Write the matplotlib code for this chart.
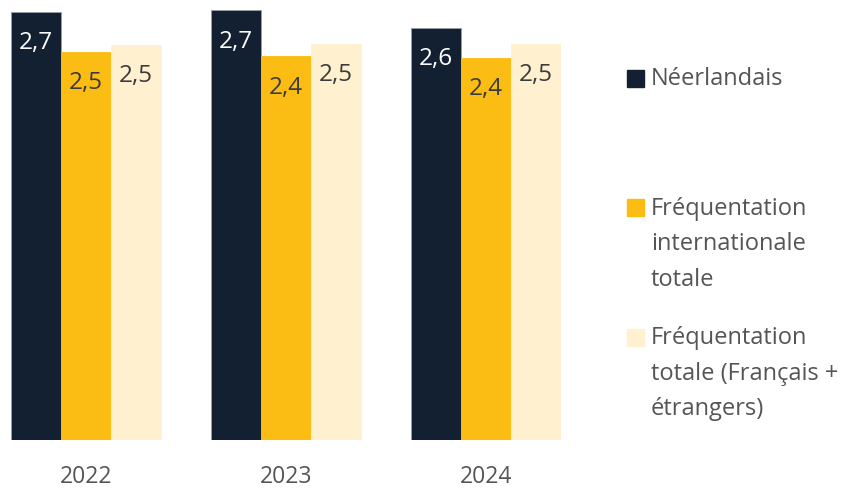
import numpy as np
import matplotlib.pyplot as plt
import matplotlib.patches as mpatches

years = ['2022', '2023', '2024']
series = ['Néerlandais',
          'Fréquentation\ninternationale\ntotale',
          'Fréquentation\ntotale (Français +\nétrangers)']
neerlandais = [2.71, 2.72, 2.61]
internationale = [2.46, 2.43, 2.42]
totale = [2.50, 2.51, 2.51]

colors = ['#122031', '#fbbc14', '#fff1d0']
label_colors = ['white', '#3b3b3b', '#3b3b3b']

plt.rcParams['font.family'] = ['Open Sans', 'DejaVu Sans']

W, H = 866, 488
fig = plt.figure(figsize=(W / 100, H / 100), dpi=100)
# axes placed in pixels: bars span 11..561, baseline at y=440
ax = fig.add_axes([11 / W, 1 - 440 / H, 550 / W, 439 / H])

x = np.arange(len(years))
w = 0.25
for i, vals in enumerate([neerlandais, internationale, totale]):
    bars = ax.bar(x + (i - 1) * w, vals, width=w, color=colors[i],
                  edgecolor='#9aa0a8' if i == 0 else colors[i], linewidth=0.6)
    for b, v in zip(bars, vals):
        ax.annotate(f'{v:.1f}'.replace('.', ','),
                    (b.get_x() + b.get_width() / 2, b.get_height()),
                    xytext=(0, -22.5), textcoords='offset points',
                    ha='center', va='center', fontsize=17.5, color=label_colors[i])

ax.set_xlim(-1.5 * w, len(years) - 1 + 1.5 * w)
ax.set_ylim(0, 2.78)
ax.set_xticks(x)
ax.set_xticklabels(years, fontsize=16.5, color='#555555')
ax.tick_params(axis='x', length=0, pad=18)
ax.set_yticks([])
for s in ax.spines.values():
    s.set_visible(False)

# legend drawn by hand (entries are unevenly spaced in the original)
sq_y = [78, 208, 337]
line_h = 35.5
for label, c, y0 in zip(series, colors, sq_y):
    fig.patches.append(mpatches.Rectangle((627 / W, 1 - (y0 + 8.5) / H), 17 / W, 17 / H,
                                          transform=fig.transFigure, color=c))
    for k, line in enumerate(label.split('\n')):
        fig.text(651 / W, 1 - (y0 + 1 + k * line_h) / H, line, fontsize=17,
                 color='#555555', va='center', ha='left')

fig.savefig('out.png', dpi=100)
